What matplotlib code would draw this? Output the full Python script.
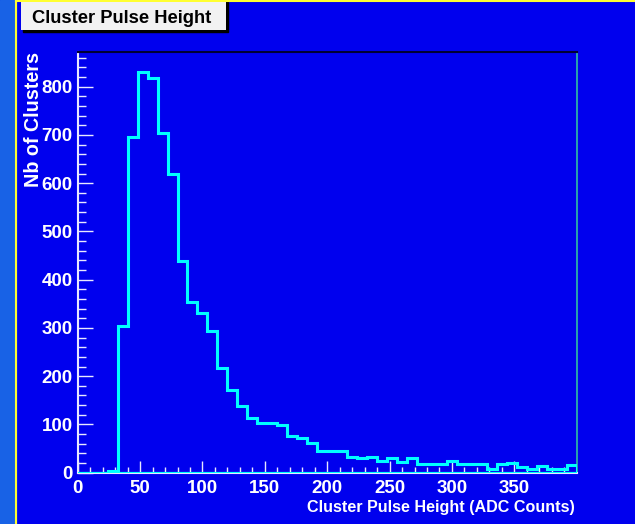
import numpy as np
import matplotlib.pyplot as plt
from matplotlib.patches import Rectangle
from matplotlib.lines import Line2D

# histogram: 50 bins of width 8 ADC counts, 0..400
bin_edges = np.arange(0, 401, 8)
counts = [0, 0, 0, 3,
          305, 695, 831, 819, 705, 620,
          438, 354, 332, 294, 218, 171, 138, 113, 104, 102,
          99, 77, 71, 61, 46, 46, 44, 33, 30, 33,
          24, 30, 23, 30, 19, 19, 17, 24, 17, 17,
          17, 8, 17, 21, 11, 7, 14, 7, 7, 15]

x_ticks = [0, 50, 100, 150, 200, 250, 300, 350]
y_ticks = [0, 100, 200, 300, 400, 500, 600, 700, 800]

title = "Cluster Pulse Height"
x_title = "Cluster Pulse Height (ADC Counts)"
y_title = "Nb of Clusters"

W, H = 635, 524
def fx(px):
    return px / W
def fy(py):
    return 1 - py / H

plt.rcParams['font.family'] = ['Liberation Sans', 'DejaVu Sans']
plt.rcParams['font.weight'] = 'bold'
plt.rcParams['axes.labelweight'] = 'bold'

bg = '#0000ee'
fig = plt.figure(figsize=(6.35, 5.24), dpi=100, facecolor=bg)

# left strip, yellow border lines
fig.patches.append(Rectangle((0, 0), fx(15.5), 1, transform=fig.transFigure,
                             color='#1862e6', zorder=0))
fig.lines.append(Line2D([fx(16), fx(16)], [0, 1], transform=fig.transFigure,
                        color='#ffff30', lw=1.5))
fig.lines.append(Line2D([fx(16), 1], [fy(0.7), fy(0.7)], transform=fig.transFigure,
                        color='#ffff30', lw=1.5))

# title box with shadow
fig.patches.append(Rectangle((fx(22.5), fy(32)), fx(205.5), 30 / H, transform=fig.transFigure,
                             color='black', zorder=1))
fig.patches.append(Rectangle((fx(20.5), fy(29.5)), fx(205.5), 28 / H, transform=fig.transFigure,
                             facecolor='#f2f2f2', edgecolor='none', zorder=2))
fig.text(fx(32), fy(22.8), title, fontweight='bold', fontsize=13.2, color='black',
         ha='left', va='baseline', zorder=3)

ax = fig.add_axes([fx(77.7), fy(472.7), (576.7 - 77.7) / W, (472.7 - 51.7) / H])
ax.set_facecolor(bg)

ax.stairs(counts, bin_edges, color='#00ffff', lw=2.2, baseline=0, zorder=3)
ax.axhline(0, color='#00ffff', lw=2.2, zorder=3)

ax.set_xlim(0, 400)
ax.set_ylim(0, 872.5)
ax.set_xticks(x_ticks)
ax.set_xticks(np.arange(0, 400, 10), minor=True)
ax.set_yticks(y_ticks)
ax.set_yticks(np.arange(0, 872, 20), minor=True)

ax.tick_params(axis='both', which='both', direction='in', colors='#e8e8ff', width=1,
               labelsize=13.5, labelcolor='white')
ax.tick_params(axis='x', which='major', length=8.5, pad=5.5)
ax.tick_params(axis='x', which='minor', length=4.3)
ax.tick_params(axis='y', which='major', length=10.8, pad=3.6)
ax.tick_params(axis='y', which='minor', length=5.8)

for side in ['left', 'bottom']:
    ax.spines[side].set_color('#e8e8ff')
    ax.spines[side].set_linewidth(1.5)
ax.spines['top'].set_color('#000033')
ax.spines['top'].set_linewidth(1.5)
ax.spines['right'].set_color('#30c0a0')
ax.spines['right'].set_linewidth(1.2)

ax.set_xlabel(x_title, fontsize=11.6, fontweight='bold', color='white', ha='right', va='baseline')
ax.xaxis.set_label_coords((575 - 77.7) / 499, -(511.7 - 472.7) / 421)
ax.set_ylabel(y_title, fontsize=14.2, fontweight='bold', color='white', ha='right', va='center')
ax.yaxis.set_label_coords((33.5 - 77.7) / 499, 1.0)

fig.savefig('out.png', dpi=100, facecolor=bg)
